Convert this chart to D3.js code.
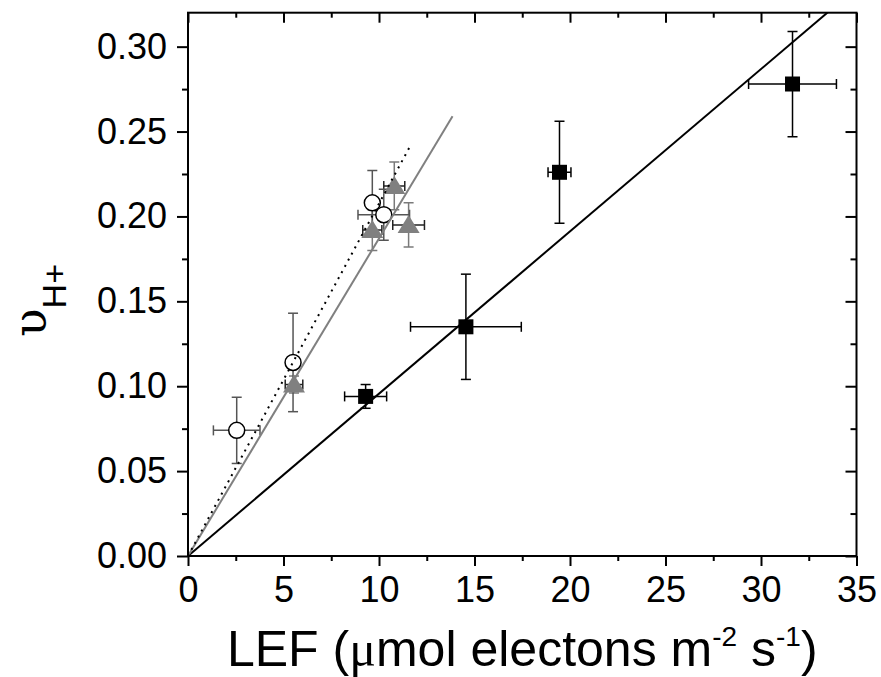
<!DOCTYPE html>
<html>
<head>
<meta charset="utf-8">
<script src="https://cdn.jsdelivr.net/npm/d3@7"></script>
<style>
  body { margin: 0; background: #fff; }
  svg { display: block; font-family: "Liberation Sans", Arial, sans-serif; }
</style>
</head>
<body>
<div id="chart"></div>
<script>
// black squares
const sqX = [9.3, 14.55, 19.45, 31.65];
const sqY = [0.094, 0.135, 0.226, 0.278];
const sqXErr = [1.1, 2.9, 0.6, 2.3];
const sqYErr = [0.007, 0.031, 0.030, 0.031];

// open circles
const ciX = [2.55, 5.5, 9.65, 10.25];
const ciY = [0.074, 0.114, 0.208, 0.201];
const ciXErr = [1.22, 0.26, 0.2, 1.35];
const ciYErr = [0.0195, 0.029, 0.019, 0.015];

// grey triangles
const trX = [5.55, 9.65, 10.8, 11.55];
const trY = [0.101, 0.192, 0.218, 0.195];
const trXErr = [0.46, 0.5, 0.55, 0.83];
const trYErr = [0.005, 0.012, 0.014, 0.013];

// fitted lines, end points
const blackFitX = [0, 35], blackFitY = [0, 0.3346];
const greyFitX = [0, 13.85], greyFitY = [0, 0.259];
const dotFitX = [0, 11.65], dotFitY = [0, 0.2418];

const xTicks = [0, 5, 10, 15, 20, 25, 30, 35];
const yTicks = [0, 0.05, 0.10, 0.15, 0.20, 0.25, 0.30];

const W = 881, H = 677;
const plotL = 188, plotR = 856.5, plotT = 12.7, plotB = 556;

const svg = d3.select("#chart").append("svg")
  .attr("width", W).attr("height", H);

const x = d3.scaleLinear().domain([0, 35]).range([plotL, plotR]);
const y = d3.scaleLinear().domain([0, 0.32]).range([plotB, plotT]);

const minorX = d3.range(0, 35.01, 2.5).filter(v => !xTicks.includes(v));
const minorY = d3.range(0, 0.3201, 0.025).map(v => +v.toFixed(3)).filter(v => !yTicks.some(t => Math.abs(t - v) < 1e-6));

svg.append("clipPath").attr("id", "plotclip")
  .append("rect").attr("x", plotL).attr("y", plotT).attr("width", plotR - plotL).attr("height", plotB - plotT);

const plot = svg.append("g").attr("clip-path", "url(#plotclip)");

function pts(xs, ys, xe, ye) {
  return xs.map((v, i) => ({x: v, y: ys[i], xe: xe[i], ye: ye[i]}));
}
const squares = pts(sqX, sqY, sqXErr, sqYErr);
const circles = pts(ciX, ciY, ciXErr, ciYErr);
const triangles = pts(trX, trY, trXErr, trYErr);

// error bars
function errBars(data, xColor, yColor) {
  const g = plot.append("g").attr("fill", "none").attr("stroke-width", 1.5);
  const cap = 5;
  data.forEach(d => {
    g.append("line").attr("stroke", yColor)
      .attr("x1", x(d.x)).attr("x2", x(d.x)).attr("y1", y(d.y - d.ye)).attr("y2", y(d.y + d.ye));
    [d.y - d.ye, d.y + d.ye].forEach(v => {
      g.append("line").attr("stroke", yColor)
        .attr("x1", x(d.x) - cap).attr("x2", x(d.x) + cap).attr("y1", y(v)).attr("y2", y(v));
    });
    g.append("line").attr("stroke", xColor)
      .attr("x1", x(d.x - d.xe)).attr("x2", x(d.x + d.xe)).attr("y1", y(d.y)).attr("y2", y(d.y));
    [d.x - d.xe, d.x + d.xe].forEach(v => {
      g.append("line").attr("stroke", xColor)
        .attr("x1", x(v)).attr("x2", x(v)).attr("y1", y(d.y) - cap).attr("y2", y(d.y) + cap);
    });
  });
}

errBars(triangles, "#222", "#7a7a7a");
errBars(circles, "#555", "#555");
errBars(squares, "#000", "#000");

// markers
plot.append("g").selectAll("path").data(triangles).join("path")
  .attr("d", d => {
    const cx = x(d.x), cy = y(d.y);
    return `M${cx},${cy - 10}L${cx + 11},${cy + 8}L${cx - 11},${cy + 8}Z`;
  })
  .attr("fill", "#808080");

plot.append("g").selectAll("circle").data(circles).join("circle")
  .attr("cx", d => x(d.x)).attr("cy", d => y(d.y)).attr("r", 8)
  .attr("fill", "#fff").attr("stroke", "#000").attr("stroke-width", 1.5);

plot.append("g").selectAll("rect").data(squares).join("rect")
  .attr("x", d => x(d.x) - 7.5).attr("y", d => y(d.y) - 7.5)
  .attr("width", 15).attr("height", 15).attr("fill", "#000");

// fit lines
const line = d3.line().x(d => x(d[0])).y(d => y(d[1]));
plot.append("path").datum(d3.zip(blackFitX, blackFitY)).attr("d", line)
  .attr("fill", "none").attr("stroke", "#000").attr("stroke-width", 2);
plot.append("path").datum(d3.zip(greyFitX, greyFitY)).attr("d", line)
  .attr("fill", "none").attr("stroke", "#808080").attr("stroke-width", 2);
plot.append("path").datum(d3.zip(dotFitX, dotFitY)).attr("d", line)
  .attr("fill", "none").attr("stroke", "#000").attr("stroke-width", 2)
  .attr("stroke-dasharray", "2,5");

// axes
function axisGroup(axis, tx, ty) {
  const g = svg.append("g").attr("transform", `translate(${tx},${ty})`).call(axis);
  g.select(".domain").remove();
  g.selectAll("line").attr("stroke", "#000").attr("stroke-width", 2);
  return g;
}

// bottom
axisGroup(d3.axisBottom(x).tickValues(xTicks).tickSize(10).tickPadding(10), 0, plotB)
  .selectAll("text").attr("font-size", 36).attr("fill", "#000")
  .attr("font-family", "'Liberation Sans', Arial, sans-serif");
axisGroup(d3.axisBottom(x).tickValues(minorX).tickSize(5).tickFormat(""), 0, plotB);
// top, ticks pointing in
axisGroup(d3.axisBottom(x).tickValues(xTicks).tickSize(10).tickFormat(""), 0, plotT);
axisGroup(d3.axisBottom(x).tickValues(minorX).tickSize(5).tickFormat(""), 0, plotT);
// left
axisGroup(d3.axisLeft(y).tickValues(yTicks).tickSize(11).tickPadding(10).tickFormat(d3.format(".2f")), plotL, 0)
  .selectAll("text").attr("font-size", 36).attr("fill", "#000")
  .attr("font-family", "'Liberation Sans', Arial, sans-serif");
axisGroup(d3.axisLeft(y).tickValues(minorY).tickSize(6).tickFormat(""), plotL, 0);
// right, ticks pointing in
axisGroup(d3.axisLeft(y).tickValues(yTicks).tickSize(11).tickFormat(""), plotR, 0);
axisGroup(d3.axisLeft(y).tickValues(minorY).tickSize(6).tickFormat(""), plotR, 0);

svg.append("rect")
  .attr("x", plotL).attr("y", plotT).attr("width", plotR - plotL).attr("height", plotB - plotT)
  .attr("fill", "none").attr("stroke", "#000").attr("stroke-width", 2);

// x title
const xt = svg.append("text")
  .attr("x", (plotL + plotR) / 2).attr("y", 666).attr("text-anchor", "middle")
  .attr("font-size", 50).attr("fill", "#000");
xt.append("tspan").text("LEF (");
xt.append("tspan").attr("font-family", "'Liberation Serif', 'DejaVu Serif', serif").text("\u03bc");
xt.append("tspan").text("mol electons m");
xt.append("tspan").attr("font-size", 28).attr("dy", -20).text("-2");
xt.append("tspan").attr("dy", 20).text(" s");
xt.append("tspan").attr("font-size", 28).attr("dy", -20).text("-1");
xt.append("tspan").attr("dy", 20).text(")");

// y title
const yt = svg.append("text")
  .attr("transform", "translate(46,337) rotate(-90)")
  .attr("fill", "#000");
yt.append("tspan").attr("font-size", 47)
  .attr("font-family", "'DejaVu Serif', 'Liberation Serif', serif").text("\u03c5");
yt.append("tspan").attr("font-size", 34).attr("dy", 20).text("H+");
</script>
</body>
</html>
